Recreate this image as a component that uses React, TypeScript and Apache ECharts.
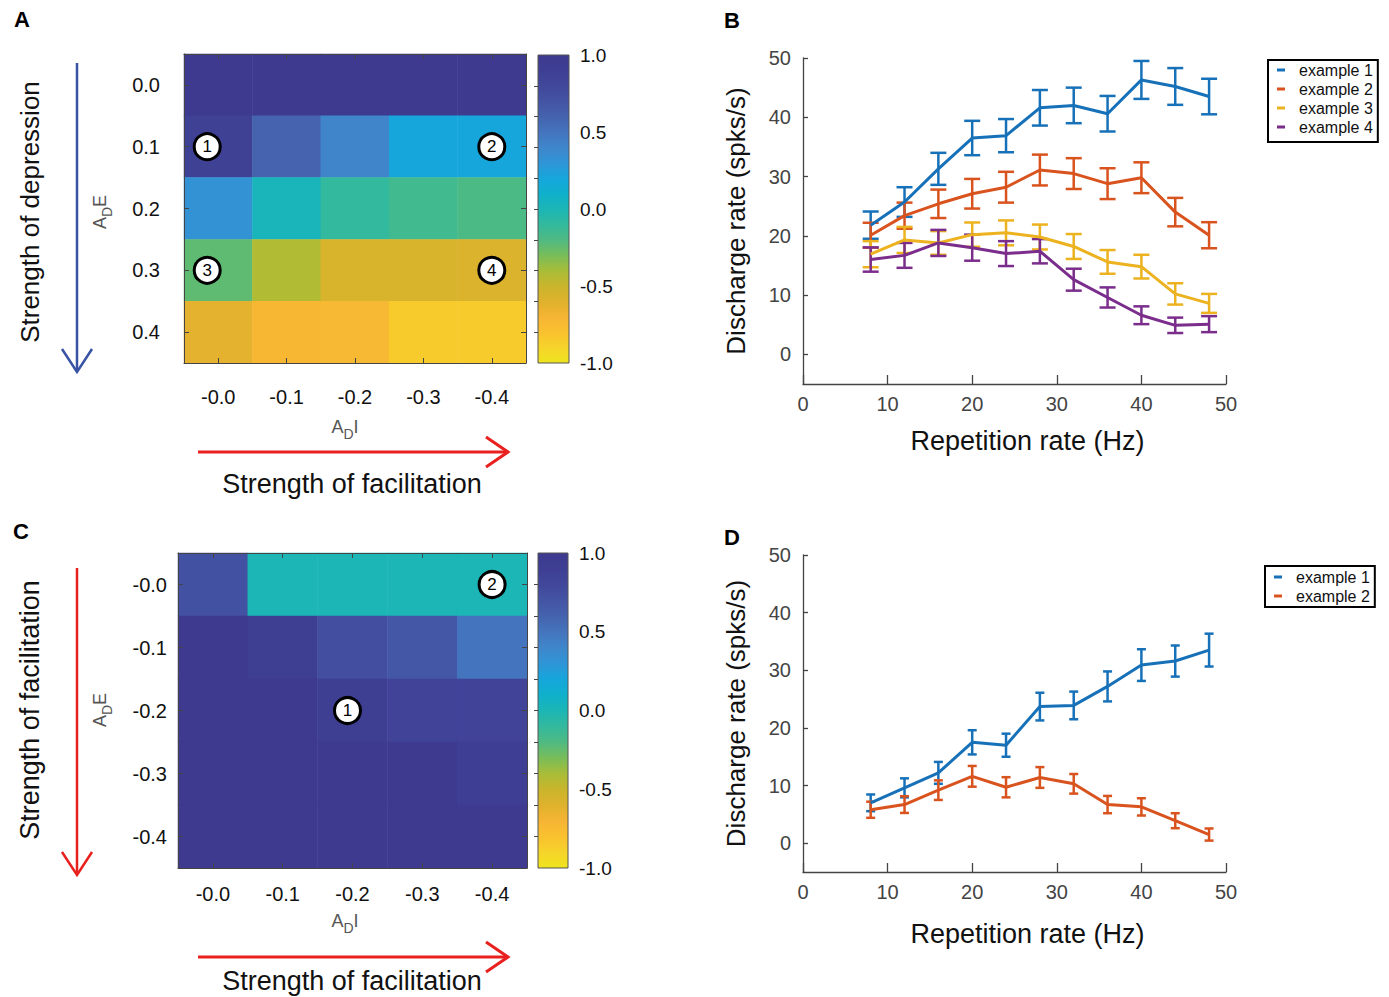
import React, { useEffect, useRef } from 'react';
import * as echarts from 'echarts';

const FONT = '"Liberation Sans", Arial, Helvetica, sans-serif';

// ---------- Panel A / C heatmaps ----------
const AE_A = ['0.0', '0.1', '0.2', '0.3', '0.4'];
const AI_A = ['-0.0', '-0.1', '-0.2', '-0.3', '-0.4'];
const AE_C = ['-0.0', '-0.1', '-0.2', '-0.3', '-0.4'];
const AI_C = ['-0.0', '-0.1', '-0.2', '-0.3', '-0.4'];

// rows top -> bottom (A_D E), columns left -> right (A_D I)
const HEAT_A = [
  [1.0, 1.0, 1.0, 1.0, 1.0],
  [0.88, 0.6, 0.41, 0.2, 0.2],
  [0.32, 0.02, -0.1, -0.15, -0.19],
  [-0.24, -0.43, -0.57, -0.57, -0.58],
  [-0.62, -0.72, -0.73, -0.85, -0.85],
];
const HEAT_C = [
  [0.72, 0.0, 0.0, 0.0, 0.0],
  [1.0, 0.92, 0.75, 0.68, 0.5],
  [1.0, 1.0, 0.92, 0.85, 0.85],
  [1.0, 1.0, 1.0, 1.0, 0.9],
  [1.0, 1.0, 1.0, 1.0, 1.0],
];
const MARKS_A = [
  { n: '1', col: 0, row: 1 },
  { n: '2', col: 4, row: 1 },
  { n: '3', col: 0, row: 3 },
  { n: '4', col: 4, row: 3 },
];
const MARKS_C = [
  { n: '1', col: 2, row: 2 },
  { n: '2', col: 4, row: 0 },
];
const CB_LABELS = [-1, -0.5, 0, 0.5, 1];
const CB_TICKS = [-0.8, -0.6, -0.4, -0.2, 0, 0.2, 0.4, 0.6, 0.8];

// parula-like palette, value -1 .. 1 in steps of 0.1
const PALETTE = ['#eee41e', '#f6d42a', '#f9c12f', '#f6b434', '#dfb22c', '#c9b52c', '#a8bd38', '#78bd5a', '#4fba82', '#33b99e', '#1bb6b5', '#0fb0cc', '#16a6dc', '#2f95d6', '#3f86cb', '#4474bd', '#4563ae', '#4454a4', '#41479b', '#3e3f94', '#3d3a8f'];

// ---------- Panel B / D ----------
const RATES = [8, 12, 16, 20, 24, 28, 32, 36, 40, 44, 48];
const Y_TICKS = [0, 10, 20, 30, 40, 50];

const B1_MEAN = [21.8, 25.7, 31.3, 36.5, 36.9, 41.6, 42.0, 40.6, 46.3, 45.2, 43.5];
const B1_ERR = [2.3, 2.5, 2.7, 2.9, 2.8, 3.0, 3.0, 3.0, 3.2, 3.1, 3.0];
const B2_MEAN = [20.1, 23.4, 25.4, 27.1, 28.2, 31.1, 30.5, 28.8, 29.8, 24.0, 20.1];
const B2_ERR = [2.1, 2.2, 2.4, 2.5, 2.6, 2.6, 2.6, 2.6, 2.6, 2.4, 2.2];
const B3_MEAN = [16.9, 19.3, 18.8, 20.2, 20.5, 19.8, 18.2, 15.6, 14.8, 10.2, 8.6];
const B3_ERR = [2.2, 2.2, 2.0, 2.05, 2.1, 2.1, 2.1, 2.0, 2.0, 1.8, 1.6];
const B4_MEAN = [16.0, 16.7, 18.8, 18.0, 17.0, 17.4, 12.6, 9.6, 6.6, 4.9, 5.1];
const B4_ERR = [2.05, 2.1, 2.2, 2.2, 2.1, 2.05, 1.85, 1.7, 1.5, 1.3, 1.35];

const D1_MEAN = [7.0, 9.6, 12.2, 17.5, 17.0, 23.7, 23.9, 27.2, 30.9, 31.6, 33.5];
const D1_ERR = [1.45, 1.65, 1.9, 2.1, 2.0, 2.4, 2.4, 2.6, 2.75, 2.7, 2.85];
const D2_MEAN = [5.8, 6.7, 9.2, 11.6, 9.7, 11.4, 10.3, 6.7, 6.3, 3.9, 1.5];
const D2_ERR = [1.4, 1.45, 1.7, 1.8, 1.75, 1.8, 1.7, 1.5, 1.5, 1.3, 1.05];

const SERIES_NAMES = ['example 1', 'example 2', 'example 3', 'example 4'];
const COLORS = ['#1771b8', '#d9531e', '#ecb21f', '#7b2d8c'];

const heatData = (m: number[][]) => m.flatMap((row, r) => row.map((v, c) => [c, r, v]));

function hmXAxis(grid: number, cats: string[], pos: string, margin: number) {
  return {
    type: 'category', gridIndex: grid, data: cats, position: pos, z: 10,
    axisLine: { show: true, onZero: false, lineStyle: { color: '#444', width: 1 } },
    axisTick: { show: true, inside: true, alignWithLabel: true, length: 5, lineStyle: { color: '#444' } },
    axisLabel: { show: pos === 'bottom', fontSize: 20, color: '#111', fontFamily: FONT, margin },
    splitLine: { show: false },
  };
}
function hmYAxis(grid: number, cats: string[], pos: string, margin: number) {
  return {
    type: 'category', gridIndex: grid, data: cats, position: pos, inverse: true, z: 10,
    axisLine: { show: true, onZero: false, lineStyle: { color: '#444', width: 1 } },
    axisTick: { show: true, inside: true, alignWithLabel: true, length: 5, lineStyle: { color: '#444' } },
    axisLabel: { show: pos === 'left', fontSize: 20, color: '#111', fontFamily: FONT, margin, padding: [5, 0, 0, 0] },
    splitLine: { show: false },
  };
}
function cbXAxis(grid: number) {
  return { type: 'value', gridIndex: grid, min: 0, max: 1, show: false };
}
function cbYAxis(grid: number) {
  return {
    type: 'value', gridIndex: grid, min: -1, max: 1, position: 'right', z: 10,
    axisLine: { show: false }, splitLine: { show: false },
    axisTick: { show: true, inside: true, length: 4, lineStyle: { color: '#444' }, customValues: CB_TICKS },
    axisLabel: { fontSize: 19, color: '#111', fontFamily: FONT, margin: 11, customValues: CB_LABELS, formatter: (v: number) => v.toFixed(1), padding: [4, 0, 0, 0] },
  };
}
function rateXAxis(grid: number, gap: number) {
  return {
    type: 'value', gridIndex: grid, min: 0, max: 50, interval: 10, z: 5,
    axisLine: { show: true, onZero: false, lineStyle: { color: '#444', width: 1.3 } },
    axisTick: { show: true, inside: true, length: 9, lineStyle: { color: '#444', width: 1.3 } },
    axisLabel: { fontSize: 20, color: '#444', fontFamily: FONT, margin: 10 },
    splitLine: { show: false },
    name: 'Repetition rate (Hz)', nameLocation: 'middle', nameGap: gap,
    nameTextStyle: { fontSize: 27, color: '#111', fontFamily: FONT, padding: [0, 0, 0, 26] },
  };
}
function rateYAxis(grid: number) {
  return {
    type: 'value', gridIndex: grid, min: -5, max: 50, z: 5,
    axisLine: { show: true, onZero: false, lineStyle: { color: '#444', width: 1.3 } },
    axisTick: { show: true, inside: true, length: 5, lineStyle: { color: '#444', width: 1.3 }, customValues: Y_TICKS },
    axisLabel: { fontSize: 20, color: '#444', fontFamily: FONT, margin: 12, customValues: Y_TICKS, padding: [4, 0, 0, 0] },
    splitLine: { show: false },
    name: 'Discharge rate (spks/s)', nameLocation: 'middle', nameGap: 54,
    nameTextStyle: { fontSize: 26, color: '#111', fontFamily: FONT },
  };
}

const gradStops = PALETTE.map((c, i) => ({ offset: 1 - i / (PALETTE.length - 1), color: c })).reverse();

function colorbarSeries(axis: number) {
  return {
    type: 'custom', xAxisIndex: axis, yAxisIndex: axis, data: [[0, 1]], silent: true, z: 2,
    renderItem: (_p: any, api: any) => {
      const a = api.coord([0, 1]);
      const b = api.coord([1, -1]);
      return {
        type: 'rect',
        shape: { x: a[0], y: a[1], width: b[0] - a[0], height: b[1] - a[1] },
        style: { fill: { type: 'linear', x: 0, y: 0, x2: 0, y2: 1, colorStops: gradStops }, stroke: '#555', lineWidth: 1 },
      };
    },
  };
}

function markerSeries(axis: number, marks: { n: string; col: number; row: number }[], offsets: Record<string, number[]>) {
  return {
    type: 'scatter', xAxisIndex: axis, yAxisIndex: axis, z: 5, silent: true,
    symbol: 'circle', symbolSize: 26,
    itemStyle: { color: '#ffffff', borderColor: '#000', borderWidth: 3, opacity: 1 },
    emphasis: { disabled: true },
    label: { show: true, position: 'inside', formatter: '{b}', fontSize: 17, color: '#000', fontFamily: FONT },
    data: marks.map((m) => ({ name: m.n, value: [m.col, m.row], symbolOffset: offsets[m.n] || [0, 0] })),
  };
}

function errRender(half: number, lw: number) {
  return (_p: any, api: any) => {
    const x = api.value(0), lo = api.value(1), hi = api.value(2);
    const a = api.coord([x, hi]);
    const b = api.coord([x, lo]);
    const st = { stroke: api.visual('color'), lineWidth: lw };
    return {
      type: 'group',
      children: [
        { type: 'line', shape: { x1: a[0], y1: a[1], x2: b[0], y2: b[1] }, style: st },
        { type: 'line', shape: { x1: a[0] - half, y1: a[1], x2: a[0] + half, y2: a[1] }, style: st },
        { type: 'line', shape: { x1: b[0] - half, y1: b[1], x2: b[0] + half, y2: b[1] }, style: st },
      ],
    };
  };
}

function lineSeries(axis: number, name: string, color: string, mean: number[]) {
  return {
    type: 'line', name, xAxisIndex: axis, yAxisIndex: axis, z: 4, silent: true,
    data: RATES.map((x, i) => [x, mean[i]]), symbol: 'none', showSymbol: false,
    lineStyle: { width: 3, color }, itemStyle: { color },
  };
}
function errSeries(axis: number, color: string, mean: number[], err: number[], half: number) {
  return {
    type: 'custom', name: 'err-' + color, xAxisIndex: axis, yAxisIndex: axis, z: 3, silent: true,
    itemStyle: { color },
    data: RATES.map((x, i) => [x, mean[i] - err[i], mean[i] + err[i]]),
    renderItem: errRender(half, 2.5),
  };
}

const subRich = {
  n: { fontSize: 18, fontFamily: FONT, fill: '#555' },
  s: { fontSize: 14, fontFamily: FONT, fill: '#555', padding: [13, 0, 0, 0] },
};

function txt(x: number, y: number, text: string, size: number, extra: any = {}) {
  return {
    type: 'text', x, y, ...extra,
    style: { text, fontSize: size, fontFamily: FONT, fill: '#111', align: 'center', verticalAlign: 'middle', ...(extra.style || {}) },
  };
}

function arrowV(x: number, y1: number, y2: number, color: string) {
  return [
    { type: 'line', shape: { x1: x, y1, x2: x, y2: y2 - 1 }, style: { stroke: color, lineWidth: 2.5 } },
    { type: 'polyline', shape: { points: [[x - 15, y2 - 23], [x, y2], [x + 15, y2 - 23]] }, style: { stroke: color, lineWidth: 2.5, fill: null } },
  ];
}
function arrowH(y: number, x1: number, x2: number, color: string) {
  return [
    { type: 'line', shape: { x1, y1: y, x2: x2 - 1, y2: y }, style: { stroke: color, lineWidth: 3 } },
    { type: 'polyline', shape: { points: [[x2 - 22, y - 15], [x2, y], [x2 - 22, y + 15]] }, style: { stroke: color, lineWidth: 3, fill: null } },
  ];
}

function buildOption() {
  const legendBase = {
    orient: 'vertical', icon: 'rect', itemWidth: 8, itemHeight: 3, itemGap: 3,
    borderColor: '#000', borderWidth: 2, backgroundColor: '#fff', selectedMode: false,
    textStyle: { fontSize: 16, fontFamily: FONT, color: '#111', padding: [0, 0, 0, 9] },
  };
  return {
    animation: false,
    backgroundColor: '#fff',
    grid: [
      { left: 184, top: 54, width: 342, height: 309, outerBoundsMode: 'none', containLabel: false },
      { left: 538, top: 55, width: 31, height: 308, outerBoundsMode: 'none', containLabel: false },
      { left: 803, top: 58, width: 423, height: 326, outerBoundsMode: 'none', containLabel: false },
      { left: 178, top: 553, width: 349, height: 315, outerBoundsMode: 'none', containLabel: false },
      { left: 538, top: 553, width: 30, height: 315, outerBoundsMode: 'none', containLabel: false },
      { left: 803, top: 555, width: 423, height: 317, outerBoundsMode: 'none', containLabel: false },
    ],
    xAxis: [
      hmXAxis(0, AI_A, 'bottom', 24),
      hmXAxis(0, AI_A, 'top', 8),
      cbXAxis(1),
      rateXAxis(2, 43),
      hmXAxis(3, AI_C, 'bottom', 16),
      hmXAxis(3, AI_C, 'top', 8),
      cbXAxis(4),
      rateXAxis(5, 48),
    ],
    yAxis: [
      hmYAxis(0, AE_A, 'left', 24),
      hmYAxis(0, AE_A, 'right', 8),
      cbYAxis(1),
      rateYAxis(2),
      hmYAxis(3, AE_C, 'left', 11),
      hmYAxis(3, AE_C, 'right', 8),
      cbYAxis(4),
      rateYAxis(5),
    ],
    visualMap: [
      { type: 'continuous', show: false, min: -1, max: 1, seriesIndex: 0, inRange: { color: PALETTE } },
      { type: 'continuous', show: false, min: -1, max: 1, seriesIndex: 11, inRange: { color: PALETTE } },
    ],
    legend: [
      { ...legendBase, left: 1268, top: 60, padding: [2, 5, 7, 9], data: SERIES_NAMES },
      { ...legendBase, left: 1265, top: 566, padding: [3, 5, 3, 9], data: SERIES_NAMES.slice(0, 2) },
    ],
    series: [
      { type: 'heatmap', xAxisIndex: 0, yAxisIndex: 0, data: heatData(HEAT_A), silent: true, z: 1, itemStyle: { borderWidth: 0 } },
      markerSeries(0, MARKS_A, { '1': [-11, 0], '3': [-11, 0] }),
      colorbarSeries(2),
      lineSeries(3, SERIES_NAMES[0], COLORS[0], B1_MEAN),
      lineSeries(3, SERIES_NAMES[1], COLORS[1], B2_MEAN),
      lineSeries(3, SERIES_NAMES[2], COLORS[2], B3_MEAN),
      lineSeries(3, SERIES_NAMES[3], COLORS[3], B4_MEAN),
      errSeries(3, COLORS[0], B1_MEAN, B1_ERR, 8),
      errSeries(3, COLORS[1], B2_MEAN, B2_ERR, 8),
      errSeries(3, COLORS[2], B3_MEAN, B3_ERR, 8),
      errSeries(3, COLORS[3], B4_MEAN, B4_ERR, 8),
      { type: 'heatmap', xAxisIndex: 4, yAxisIndex: 4, data: heatData(HEAT_C), silent: true, z: 1, itemStyle: { borderWidth: 0 } },
      markerSeries(4, MARKS_C, { '1': [-5, 0] }),
      colorbarSeries(6),
      lineSeries(7, SERIES_NAMES[0], COLORS[0], D1_MEAN),
      lineSeries(7, SERIES_NAMES[1], COLORS[1], D2_MEAN),
      errSeries(7, COLORS[0], D1_MEAN, D1_ERR, 4.5),
      errSeries(7, COLORS[1], D2_MEAN, D2_ERR, 4.5),
    ],
    graphic: [
      txt(22, 19, 'A', 22, { style: { fontWeight: 'bold', fill: '#000' } }),
      txt(732, 20, 'B', 22, { style: { fontWeight: 'bold', fill: '#000' } }),
      txt(21, 531, 'C', 22, { style: { fontWeight: 'bold', fill: '#000' } }),
      txt(732, 537, 'D', 22, { style: { fontWeight: 'bold', fill: '#000' } }),
      txt(30, 212, 'Strength of depression', 26, { rotation: Math.PI / 2 }),
      txt(30, 710, 'Strength of facilitation', 27, { rotation: Math.PI / 2 }),
      txt(352, 484, 'Strength of facilitation', 27),
      txt(352, 981, 'Strength of facilitation', 27),
      { type: 'text', x: 345, y: 427, style: { text: '{n|A}{s|D}{n|I}', rich: subRich, align: 'center', verticalAlign: 'middle' } },
      { type: 'text', x: 345, y: 921, style: { text: '{n|A}{s|D}{n|I}', rich: subRich, align: 'center', verticalAlign: 'middle' } },
      { type: 'text', x: 100, y: 212, rotation: Math.PI / 2, style: { text: '{n|A}{s|D}{n|E}', rich: subRich, align: 'center', verticalAlign: 'middle' } },
      { type: 'text', x: 100, y: 710, rotation: Math.PI / 2, style: { text: '{n|A}{s|D}{n|E}', rich: subRich, align: 'center', verticalAlign: 'middle' } },
      ...arrowV(77, 63, 372, '#3953a4'),
      ...arrowH(452, 198, 508, '#e8211f'),
      ...arrowV(77, 568, 875, '#e8211f'),
      ...arrowH(957, 198, 508, '#e8211f'),
    ],
  };
}

export default function App() {
  const ref = useRef<HTMLDivElement>(null);
  useEffect(() => {
    document.body.style.margin = '0';
    const chart = echarts.init(ref.current as HTMLDivElement, null, { renderer: 'svg' });
    chart.setOption(buildOption() as any);
    return () => chart.dispose();
  }, []);
  return <div ref={ref} style={{ width: 1389, height: 997, background: '#fff' }} />;
}
